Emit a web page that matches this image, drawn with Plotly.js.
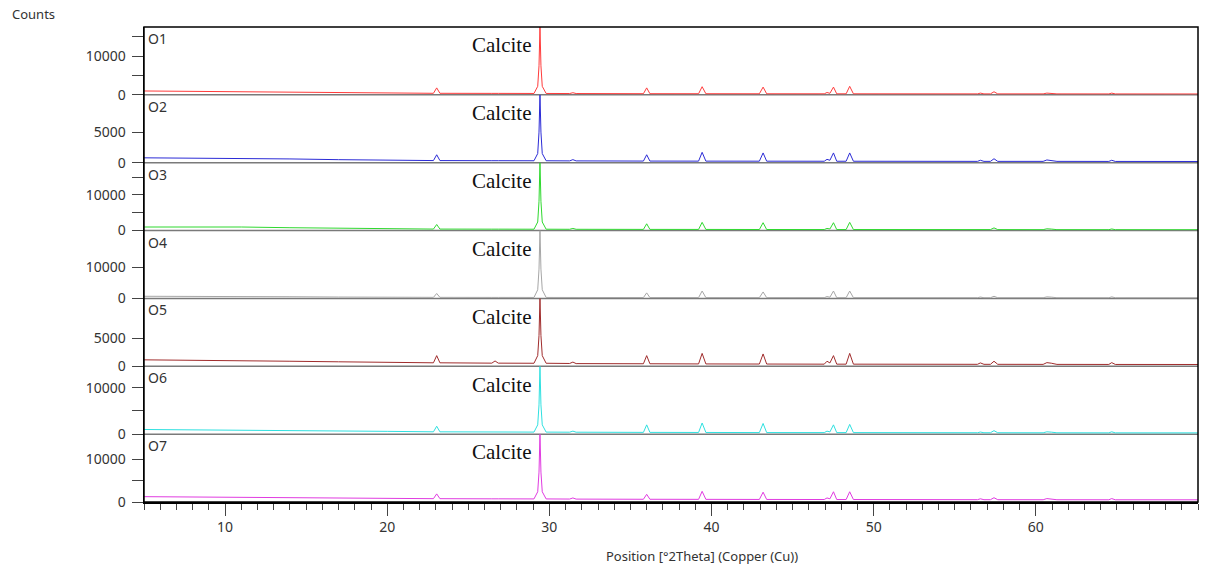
<!DOCTYPE html>
<html>
<head>
<meta charset="utf-8">
<script src="https://cdn.plot.ly/plotly-3.0.1.min.js"></script>
<style>html,body{margin:0;padding:0;background:#fff;}#chart{width:1205px;height:569px;}</style>
</head>
<body>
<div id="chart"></div>
<script>
// 2-theta positions (degrees)
const twoTheta = [5, 8, 11, 14, 17, 20,
  22.85, 23.05, 23.25,
  26.45, 26.65, 26.85,
  29.05, 29.28, 29.36, 29.42, 29.48, 29.56, 29.8,
  31.25, 31.45, 31.65,
  35.8, 36.0, 36.2,
  39.2, 39.42, 39.65,
  42.95, 43.18, 43.4,
  46.95, 47.12, 47.3, 47.52, 47.72,
  48.3, 48.52, 48.75,
  56.4, 56.58, 56.8, 57.2, 57.42, 57.65,
  60.45, 60.68, 60.95, 61.3,
  64.5, 64.68, 64.9, 65.45, 65.62, 65.8,
  70];

const sampleNames = ["O1", "O2", "O3", "O4", "O5", "O6", "O7"];

const countsO1 = [1000, 900, 800, 650, 550, 450,
  400, 1800, 400,
  380, 450, 380,
  360, 2200, 7500, 17500, 7500, 2200, 360,
  340, 550, 340,
  300, 1800, 300,
  290, 2100, 290,
  280, 2000, 280,
  270, 600, 400, 2000, 270,
  270, 2200, 270,
  250, 450, 250, 250, 800, 250,
  250, 450, 400, 250,
  240, 450, 240, 240, 350, 240,
  230];
const countsO2 = [800, 780, 720, 620, 500, 400,
  350, 1300, 350,
  330, 380, 330,
  320, 1500, 5000, 11100, 5000, 1500, 320,
  300, 500, 300,
  270, 1300, 270,
  260, 1700, 260,
  250, 1600, 250,
  240, 550, 400, 1600, 240,
  240, 1600, 240,
  220, 400, 220, 220, 650, 220,
  220, 450, 380, 220,
  210, 400, 210, 210, 300, 210,
  200];
const countsO3 = [1000, 1050, 1000, 800, 650, 500,
  420, 1700, 420,
  400, 460, 400,
  380, 2400, 8200, 19000, 8200, 2400, 380,
  360, 600, 360,
  330, 1900, 330,
  320, 2300, 320,
  300, 2200, 300,
  290, 600, 450, 2200, 290,
  290, 2300, 290,
  270, 450, 270, 270, 750, 270,
  260, 500, 420, 260,
  250, 450, 250, 250, 350, 250,
  240];
const countsO4 = [700, 700, 650, 550, 450, 380,
  350, 1600, 350,
  330, 420, 330,
  320, 2800, 9500, 22000, 9500, 2800, 320,
  300, 500, 300,
  280, 1800, 280,
  270, 2400, 270,
  260, 2100, 260,
  250, 600, 400, 2400, 250,
  250, 2400, 250,
  230, 450, 230, 230, 700, 230,
  230, 500, 420, 230,
  220, 500, 220, 220, 330, 220,
  210];
const countsO5 = [1150, 1100, 1000, 900, 800, 700,
  620, 1900, 620,
  560, 950, 560,
  540, 1900, 5500, 12100, 5500, 1900, 540,
  500, 750, 480,
  450, 1900, 450,
  420, 2300, 420,
  400, 2200, 400,
  380, 900, 600, 1900, 380,
  380, 2300, 380,
  350, 600, 350, 350, 900, 350,
  340, 650, 550, 340,
  330, 650, 330, 330, 450, 330,
  320];
const countsO6 = [1000, 950, 900, 800, 700, 600,
  500, 1700, 500,
  460, 520, 460,
  440, 2000, 6300, 14600, 6300, 2000, 440,
  420, 650, 420,
  380, 2000, 380,
  360, 2400, 360,
  340, 2300, 340,
  330, 650, 480, 2000, 330,
  330, 2100, 330,
  300, 450, 300, 300, 750, 300,
  290, 500, 430, 290,
  280, 500, 280, 280, 380, 280,
  270];
const countsO7 = [1250, 1200, 1150, 1050, 950, 850,
  780, 1900, 780,
  740, 820, 740,
  720, 2400, 7000, 15900, 7000, 2400, 720,
  690, 950, 680,
  640, 1800, 640,
  620, 2500, 620,
  600, 2300, 600,
  580, 950, 750, 2400, 580,
  580, 2400, 580,
  540, 750, 540, 540, 1000, 540,
  530, 800, 700, 530,
  520, 800, 520, 520, 650, 520,
  510];

const yMax = [17500, 11100, 19000, 22000, 12100, 14600, 15900];
const yTickVals = [[0, 10000], [0, 5000], [0, 10000], [0, 10000], [0, 5000], [0, 10000], [0, 10000]];
const yTickText = [["0", "10000"], ["0", "5000"], ["0", "10000"], ["0", "10000"], ["0", "5000"], ["0", "10000"], ["0", "10000"]];
const yMinorVals = [[5000, 15000], [], [5000, 15000], [], [], [5000], [5000]];
const xTickVals = [10, 20, 30, 40, 50, 60];
const xTickText = ["10", "20", "30", "40", "50", "60"];
const peakLabel = "Calcite";
const peakLabelPos = 29.0;

const colors = ["#ff3b3b", "#2b2bd6", "#2fd82f", "#a6a6a6", "#a02c2c", "#2fe0e0", "#e03be0"];
const allCounts = [countsO1, countsO2, countsO3, countsO4, countsO5, countsO6, countsO7];

const n = sampleNames.length;
const traces = [];
const layout = {
  width: 1205, height: 569,
  margin: {l: 144, r: 7, t: 27, b: 67},
  paper_bgcolor: "#fff", plot_bgcolor: "#fff",
  showlegend: false,
  font: {family: "Noto Sans, Open Sans, sans-serif", size: 14, color: "#333"},
  xaxis: {
    range: [5, 70], anchor: "y7", showgrid: false, zeroline: false,
    showline: true, linecolor: "#000", linewidth: 1.5,
    tickmode: "array", tickvals: xTickVals, ticktext: xTickText, ticks: "outside", ticklen: 12, tickcolor: "#444",
    tickfont: {size: 14, color: "#333"},
    minor: {dtick: 1, ticks: "outside", ticklen: 6, tickcolor: "#444"}
  },
  annotations: [],
  shapes: []
};

for (let i = 0; i < n; i++) {
  const ax = i === 0 ? "y" : "y" + (i + 1);
  const axKey = i === 0 ? "yaxis" : "yaxis" + (i + 1);
  traces.push({
    x: twoTheta, y: allCounts[i], type: "scatter", mode: "lines",
    xaxis: "x", yaxis: ax, line: {color: colors[i], width: 1}, hoverinfo: "x+y"
  });
  const top = (n - i) / n, bot = (n - i - 1) / n;
  layout[axKey] = {
    domain: [bot, top], range: [0, yMax[i]], anchor: "x",
    showgrid: false, zeroline: false, showline: true, linecolor: "#000", linewidth: 1.5,
    tickmode: "array", tickvals: yTickVals[i], ticktext: yTickText[i], ticks: "outside", ticklen: 11, tickcolor: "#444",
    tickfont: {size: 14, color: "#333"}, ticklabelstandoff: 3,
    minor: {tickmode: "array", tickvals: yMinorVals[i], ticks: yMinorVals[i].length ? "outside" : "", ticklen: 11, tickcolor: "#444"}
  };
  layout.annotations.push({
    text: sampleNames[i], xref: "paper", x: 0.002, yref: ax + " domain", y: 1,
    xanchor: "left", yanchor: "top", showarrow: false, font: {size: 14, color: "#333"}
  });
  layout.annotations.push({
    text: peakLabel, xref: "x", x: peakLabelPos, yref: ax + " domain", y: 0.73,
    xanchor: "right", yanchor: "middle", showarrow: false,
    font: {family: "Liberation Serif, Times New Roman, serif", size: 21, color: "#111"}
  });
  if (i < n - 1) {
    layout.shapes.push({type: "line", xref: "paper", yref: "paper", x0: 0, x1: 1, y0: bot, y1: bot,
      line: {color: "#7a7a7a", width: 1.5}, layer: "below"});
  }
}
layout.shapes.push({type: "rect", xref: "paper", yref: "paper", x0: 0, x1: 1, y0: 0, y1: 1,
  line: {color: "#000", width: 1.5}});

layout.annotations.push({
  text: "Counts", xref: "paper", yref: "paper", x: -0.127, y: 1.027,
  xanchor: "left", yanchor: "middle", showarrow: false, font: {size: 13, color: "#333"}
});
layout.annotations.push({
  text: "Position [°2Theta] (Copper (Cu))", xref: "paper", yref: "paper", x: 0.529, y: -0.114,
  xanchor: "center", yanchor: "middle", showarrow: false, font: {size: 13, color: "#333"}
});

Plotly.newPlot("chart", traces, layout, {staticPlot: true, displayModeBar: false});
</script>
</body>
</html>
